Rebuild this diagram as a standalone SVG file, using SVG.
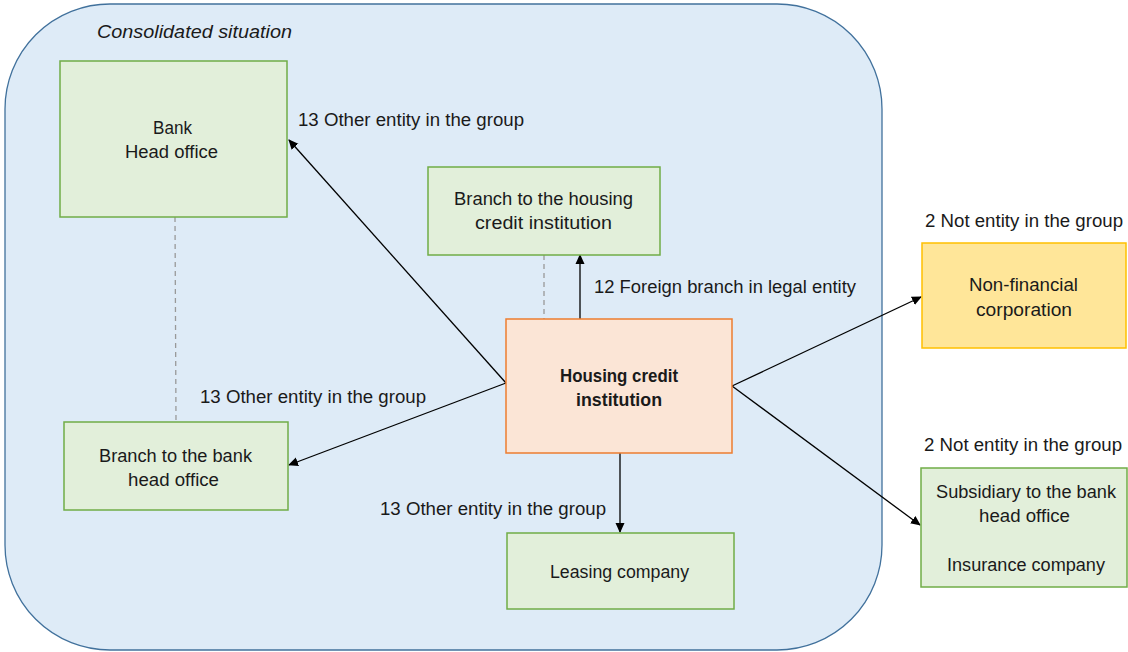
<svg xmlns="http://www.w3.org/2000/svg" width="1128" height="652" viewBox="0 0 1128 652">
<defs>
<marker id="ah" markerWidth="10" markerHeight="10" refX="9" refY="5" orient="auto" markerUnits="userSpaceOnUse">
<path d="M0,0.5 L10,5 L0,9.5 Z" fill="#000"/>
</marker>
<style>
text{font-family:"Liberation Sans",Arial,sans-serif;font-size:17.5px;fill:#1a1a1a}
.c{text-anchor:middle}
.g{fill:#E2EFDA;stroke:#70AD47;stroke-width:1.5}
.o{fill:#FBE5D6;stroke:#ED7D31;stroke-width:1.5}
.y{fill:#FFE699;stroke:#FFC000;stroke-width:1.5}
.ln{stroke:#000;stroke-width:1.3;fill:none;marker-end:url(#ah)}
.ds{stroke:#999;stroke-width:1.3;stroke-dasharray:5,4;fill:none}
</style>
</defs>
<rect width="1128" height="652" fill="#fff"/>
<g id="consolidated">
<rect x="5" y="4" width="877" height="646" rx="105" ry="105" fill="#DEEBF7" stroke="#41719C" stroke-width="1.3"/>
<text x="97" y="38" font-style="italic" textLength="195" lengthAdjust="spacingAndGlyphs">Consolidated situation</text>
</g>
<g id="connectors">
<line class="ds" x1="175" y1="217" x2="176" y2="421"/>
<line class="ds" x1="544" y1="255" x2="544" y2="319"/>
<line class="ln" x1="580" y1="320" x2="580" y2="255"/>
<line class="ln" x1="506" y1="383" x2="289" y2="140"/>
<line class="ln" x1="506" y1="383" x2="289" y2="465"/>
<line class="ln" x1="620" y1="453" x2="620" y2="532"/>
<line class="ln" x1="732" y1="386" x2="921" y2="297"/>
<line class="ln" x1="732" y1="386" x2="920" y2="525"/>
<text x="298" y="126" textLength="226" lengthAdjust="spacingAndGlyphs">13 Other entity in the group</text>
<text x="200" y="403" textLength="226" lengthAdjust="spacingAndGlyphs">13 Other entity in the group</text>
<text x="380" y="515" textLength="226" lengthAdjust="spacingAndGlyphs">13 Other entity in the group</text>
<text x="594" y="293" textLength="262" lengthAdjust="spacingAndGlyphs">12 Foreign branch in legal entity</text>
<text x="925" y="227" textLength="198" lengthAdjust="spacingAndGlyphs">2 Not entity in the group</text>
<text x="924" y="451" textLength="198" lengthAdjust="spacingAndGlyphs">2 Not entity in the group</text>
</g>
<g id="bank-head-office">
<rect class="g" x="60" y="61" width="227" height="156"/>
<text x="172.5" y="134" class="c" textLength="39" lengthAdjust="spacingAndGlyphs">Bank</text>
<text x="171.5" y="158" class="c" textLength="93" lengthAdjust="spacingAndGlyphs">Head office</text>
</g>
<g id="branch-housing">
<rect class="g" x="428" y="167" width="232" height="88"/>
<text x="543.5" y="205" class="c" textLength="179" lengthAdjust="spacingAndGlyphs">Branch to the housing</text>
<text x="543.5" y="229" class="c" textLength="137" lengthAdjust="spacingAndGlyphs">credit institution</text>
</g>
<g id="housing-credit">
<rect class="o" x="506" y="319" width="226" height="134"/>
<text x="619" y="382" class="c" font-weight="bold" textLength="118" lengthAdjust="spacingAndGlyphs">Housing credit</text>
<text x="619" y="406" class="c" font-weight="bold" textLength="86" lengthAdjust="spacingAndGlyphs">institution</text>
</g>
<g id="branch-bank">
<rect class="g" x="64" y="422" width="224" height="88"/>
<text x="175.5" y="462" class="c" textLength="153" lengthAdjust="spacingAndGlyphs">Branch to the bank</text>
<text x="173.5" y="486" class="c" textLength="91" lengthAdjust="spacingAndGlyphs">head office</text>
</g>
<g id="leasing">
<rect class="g" x="507" y="533" width="227" height="76"/>
<text x="619.5" y="578" class="c" textLength="139" lengthAdjust="spacingAndGlyphs">Leasing company</text>
</g>
<g id="non-financial">
<rect class="y" x="922" y="243" width="204" height="105"/>
<text x="1023.5" y="291" class="c" textLength="109" lengthAdjust="spacingAndGlyphs">Non-financial</text>
<text x="1024" y="316" class="c" textLength="96" lengthAdjust="spacingAndGlyphs">corporation</text>
</g>
<g id="subsidiary">
<rect class="g" x="921" y="468" width="206" height="119"/>
<text x="1026" y="498" class="c" textLength="180" lengthAdjust="spacingAndGlyphs">Subsidiary to the bank</text>
<text x="1024.5" y="522" class="c" textLength="91" lengthAdjust="spacingAndGlyphs">head office</text>
<text x="1026" y="571" class="c" textLength="158" lengthAdjust="spacingAndGlyphs">Insurance company</text>
</g>
</svg>
